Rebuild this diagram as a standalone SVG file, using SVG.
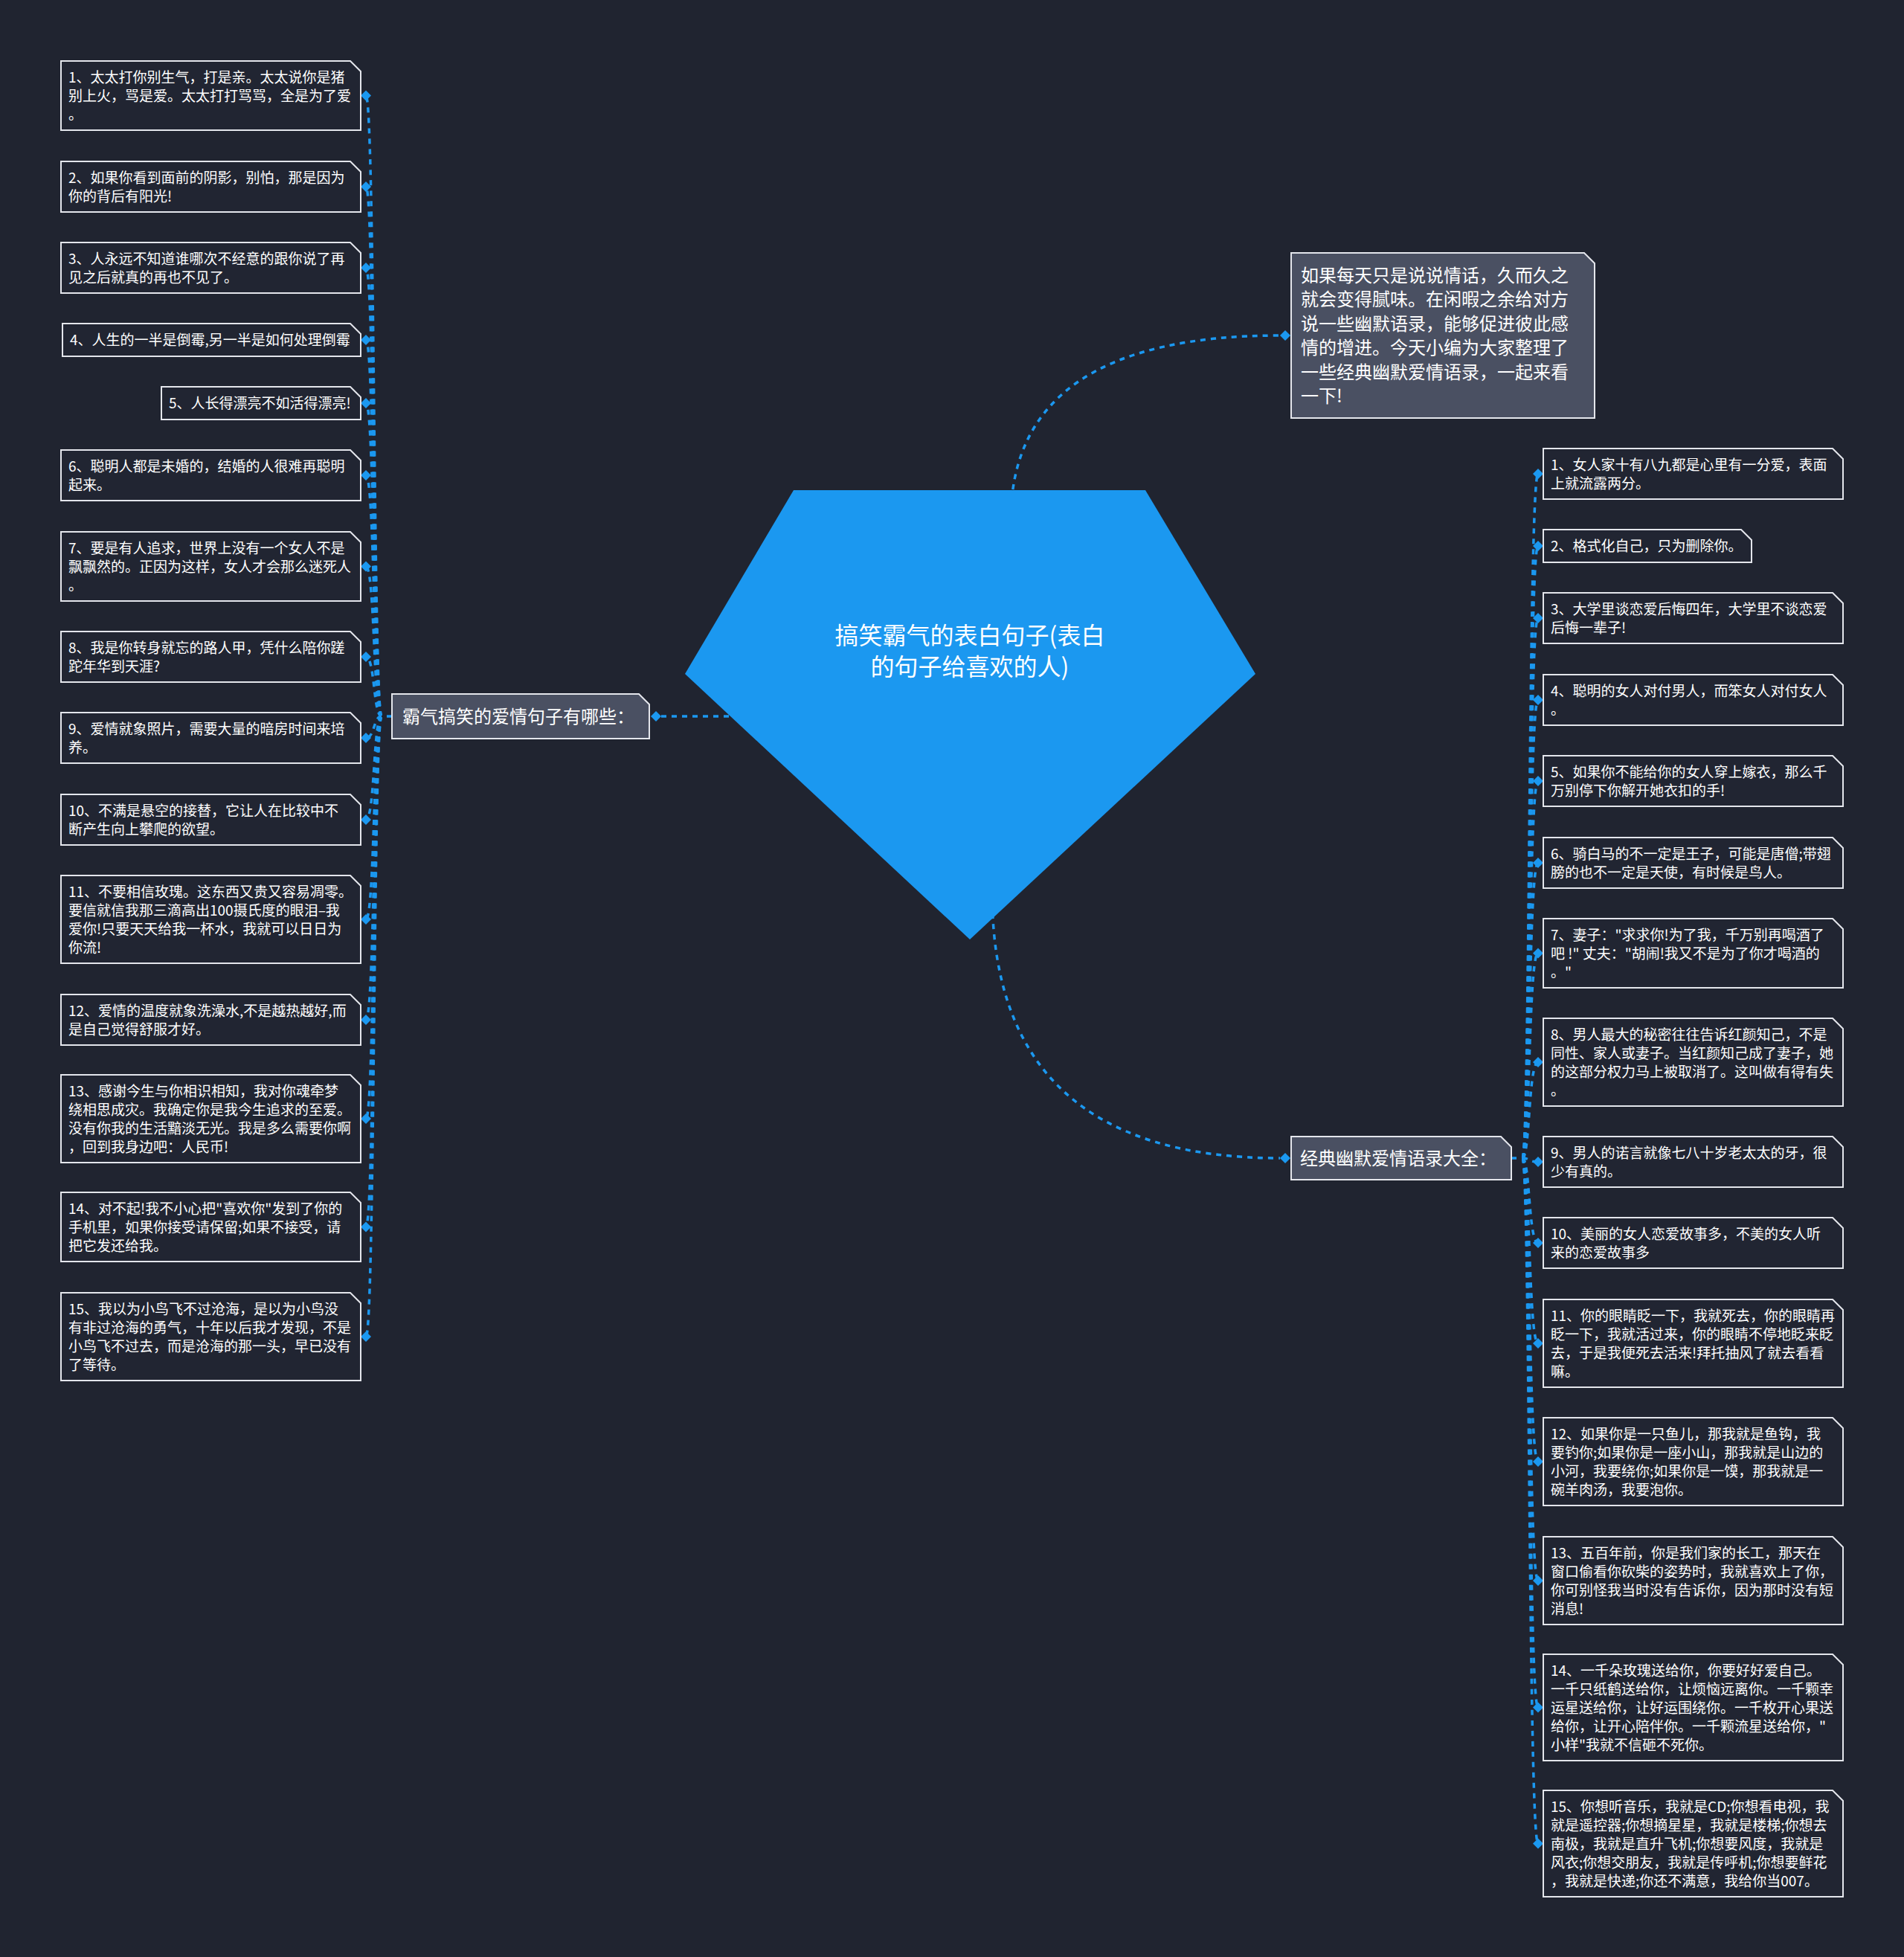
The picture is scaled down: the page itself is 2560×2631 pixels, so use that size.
<svg xmlns="http://www.w3.org/2000/svg" width="2560" height="2631" viewBox="0 0 2560 2631">
<style>
.leaf{fill:#212532;stroke:#e4e6ec;stroke-width:2}
.branch{fill:#4a5062;stroke:#e4e6ec;stroke-width:2}
.t{font-family:"Noto Sans CJK SC","Noto Sans",sans-serif;fill:#ffffff}
.t19{font-size:19px}
.t24{font-size:24px}
.t32{font-size:32px}
.con{fill:none;stroke:#1b98f0;stroke-width:3.5;stroke-dasharray:7 7}
.dia{fill:#1b98f0}
</style>
<defs>
<path id="dm" d="M0 -7 L7 0 L0 7 L-7 0 Z"/>
</defs>
<rect width="2560" height="2631" fill="#202430"/>

<g id="connectors">
<path class="con" d="M1359 700 Q1359 451 1721 451"/>
<path class="con" d="M1334 1200 Q1334 1557 1721 1557"/>
<path class="con" d="M889 963 L1000 963"/>
<path class="con" d="M527 963 L513 963"/>
<path class="con" d="M2032 1557 L2047 1557"/>
<path class="con" d="M513 963 C502 963 504 128.5 492 128.5"/>
<path class="con" d="M513 963 C502 963 504 251 492 251"/>
<path class="con" d="M513 963 C502 963 504 360 492 360"/>
<path class="con" d="M513 963 C502 963 504 457 492 457"/>
<path class="con" d="M513 963 C502 963 504 542 492 542"/>
<path class="con" d="M513 963 C502 963 504 639 492 639"/>
<path class="con" d="M513 963 C502 963 504 761.5 492 761.5"/>
<path class="con" d="M513 963 C502 963 504 883 492 883"/>
<path class="con" d="M513 963 C502 963 504 992 492 992"/>
<path class="con" d="M513 963 C502 963 504 1102 492 1102"/>
<path class="con" d="M513 963 C502 963 504 1236 492 1236"/>
<path class="con" d="M513 963 C502 963 504 1371 492 1371"/>
<path class="con" d="M513 963 C502 963 504 1504 492 1504"/>
<path class="con" d="M513 963 C502 963 504 1649.5 492 1649.5"/>
<path class="con" d="M513 963 C502 963 504 1797 492 1797"/>
<path class="con" d="M2047 1557 C2057 1557 2055 637 2068 637"/>
<path class="con" d="M2047 1557 C2057 1557 2055 734 2068 734"/>
<path class="con" d="M2047 1557 C2057 1557 2055 831 2068 831"/>
<path class="con" d="M2047 1557 C2057 1557 2055 941 2068 941"/>
<path class="con" d="M2047 1557 C2057 1557 2055 1050 2068 1050"/>
<path class="con" d="M2047 1557 C2057 1557 2055 1160 2068 1160"/>
<path class="con" d="M2047 1557 C2057 1557 2055 1281.5 2068 1281.5"/>
<path class="con" d="M2047 1557 C2057 1557 2055 1428 2068 1428"/>
<path class="con" d="M2047 1557 C2057 1557 2055 1562 2068 1562"/>
<path class="con" d="M2047 1557 C2057 1557 2055 1671 2068 1671"/>
<path class="con" d="M2047 1557 C2057 1557 2055 1806 2068 1806"/>
<path class="con" d="M2047 1557 C2057 1557 2055 1965 2068 1965"/>
<path class="con" d="M2047 1557 C2057 1557 2055 2125 2068 2125"/>
<path class="con" d="M2047 1557 C2057 1557 2055 2295.5 2068 2295.5"/>
<path class="con" d="M2047 1557 C2057 1557 2055 2478.5 2068 2478.5"/>
<use href="#dm" class="dia" x="1728" y="451"/>
<use href="#dm" class="dia" x="1728" y="1557"/>
<use href="#dm" class="dia" x="882" y="963"/>
<use href="#dm" class="dia" x="492" y="128.5"/>
<use href="#dm" class="dia" x="492" y="251"/>
<use href="#dm" class="dia" x="492" y="360"/>
<use href="#dm" class="dia" x="492" y="457"/>
<use href="#dm" class="dia" x="492" y="542"/>
<use href="#dm" class="dia" x="492" y="639"/>
<use href="#dm" class="dia" x="492" y="761.5"/>
<use href="#dm" class="dia" x="492" y="883"/>
<use href="#dm" class="dia" x="492" y="992"/>
<use href="#dm" class="dia" x="492" y="1102"/>
<use href="#dm" class="dia" x="492" y="1236"/>
<use href="#dm" class="dia" x="492" y="1371"/>
<use href="#dm" class="dia" x="492" y="1504"/>
<use href="#dm" class="dia" x="492" y="1649.5"/>
<use href="#dm" class="dia" x="492" y="1797"/>
<use href="#dm" class="dia" x="2068" y="637"/>
<use href="#dm" class="dia" x="2068" y="734"/>
<use href="#dm" class="dia" x="2068" y="831"/>
<use href="#dm" class="dia" x="2068" y="941"/>
<use href="#dm" class="dia" x="2068" y="1050"/>
<use href="#dm" class="dia" x="2068" y="1160"/>
<use href="#dm" class="dia" x="2068" y="1281.5"/>
<use href="#dm" class="dia" x="2068" y="1428"/>
<use href="#dm" class="dia" x="2068" y="1562"/>
<use href="#dm" class="dia" x="2068" y="1671"/>
<use href="#dm" class="dia" x="2068" y="1806"/>
<use href="#dm" class="dia" x="2068" y="1965"/>
<use href="#dm" class="dia" x="2068" y="2125"/>
<use href="#dm" class="dia" x="2068" y="2295.5"/>
<use href="#dm" class="dia" x="2068" y="2478.5"/>
</g>

<g id="center">
<polygon points="1067,659 1540,659 1688,906 1304,1263 921,906" fill="#1b98f0"/>
<text class="t t32" x="1304" y="866" text-anchor="middle">搞笑霸气的表白句子(表白</text>
<text class="t t32" x="1304" y="908" text-anchor="middle">的句子给喜欢的人)</text>
</g>

<g id="intro">
<path class="branch" d="M1736 340 H2130 L2144 354 V562 H1736 Z"/>
<text class="t t24" x="1749"><tspan x="1749" y="379">如果每天只是说说情话，久而久之</tspan><tspan x="1749" y="411">就会变得腻味。在闲暇之余给对方</tspan><tspan x="1749" y="444">说一些幽默语录，能够促进彼此感</tspan><tspan x="1749" y="476">情的增进。今天小编为大家整理了</tspan><tspan x="1749" y="509">一些经典幽默爱情语录，一起来看</tspan><tspan x="1749" y="541">一下!</tspan></text>
</g>

<g id="branch-left">
<path class="branch" d="M527 933 H859 L873 947 V993 H527 Z"/>
<text class="t t24" x="541" y="972">霸气搞笑的爱情句子有哪些：</text>
</g>

<g id="branch-right">
<path class="branch" d="M1736 1528 H2018 L2032 1542 V1586 H1736 Z"/>
<text class="t t24" x="1748" y="1566">经典幽默爱情语录大全：</text>
</g>

<g id="l1"><path class="leaf" d="M82 82 H471 L485 96 V175 H82 Z"/><text class="t t19"><tspan x="92" y="111">1、太太打你别生气，打是亲。太太说你是猪</tspan><tspan x="92" y="136">别上火，骂是爱。太太打打骂骂，全是为了爱</tspan><tspan x="92" y="161">。</tspan></text></g>
<g id="l2"><path class="leaf" d="M82 217 H471 L485 231 V285 H82 Z"/><text class="t t19"><tspan x="92" y="246">2、如果你看到面前的阴影，别怕，那是因为</tspan><tspan x="92" y="271">你的背后有阳光!</tspan></text></g>
<g id="l3"><path class="leaf" d="M82 326 H471 L485 340 V394 H82 Z"/><text class="t t19"><tspan x="92" y="355">3、人永远不知道谁哪次不经意的跟你说了再</tspan><tspan x="92" y="380">见之后就真的再也不见了。</tspan></text></g>
<g id="l4"><path class="leaf" d="M84 435 H471 L485 449 V479 H84 Z"/><text class="t t19"><tspan x="94" y="464">4、人生的一半是倒霉,另一半是如何处理倒霉</tspan></text></g>
<g id="l5"><path class="leaf" d="M217 520 H471 L485 534 V564 H217 Z"/><text class="t t19"><tspan x="227" y="549">5、人长得漂亮不如活得漂亮!</tspan></text></g>
<g id="l6"><path class="leaf" d="M82 605 H471 L485 619 V673 H82 Z"/><text class="t t19"><tspan x="92" y="634">6、聪明人都是未婚的，结婚的人很难再聪明</tspan><tspan x="92" y="659">起来。</tspan></text></g>
<g id="l7"><path class="leaf" d="M82 715 H471 L485 729 V808 H82 Z"/><text class="t t19"><tspan x="92" y="744">7、要是有人追求，世界上没有一个女人不是</tspan><tspan x="92" y="769">飘飘然的。正因为这样，女人才会那么迷死人</tspan><tspan x="92" y="794">。</tspan></text></g>
<g id="l8"><path class="leaf" d="M82 849 H471 L485 863 V917 H82 Z"/><text class="t t19"><tspan x="92" y="878">8、我是你转身就忘的路人甲，凭什么陪你蹉</tspan><tspan x="92" y="903">跎年华到天涯?</tspan></text></g>
<g id="l9"><path class="leaf" d="M82 958 H471 L485 972 V1026 H82 Z"/><text class="t t19"><tspan x="92" y="987">9、爱情就象照片，需要大量的暗房时间来培</tspan><tspan x="92" y="1012">养。</tspan></text></g>
<g id="l10"><path class="leaf" d="M82 1068 H471 L485 1082 V1136 H82 Z"/><text class="t t19"><tspan x="92" y="1097">10、不满是悬空的接替，它让人在比较中不</tspan><tspan x="92" y="1122">断产生向上攀爬的欲望。</tspan></text></g>
<g id="l11"><path class="leaf" d="M82 1177 H471 L485 1191 V1295 H82 Z"/><text class="t t19"><tspan x="92" y="1206">11、不要相信玫瑰。这东西又贵又容易凋零。</tspan><tspan x="92" y="1231">要信就信我那三滴高出100摄氏度的眼泪–我</tspan><tspan x="92" y="1256">爱你!只要天天给我一杯水，我就可以日日为</tspan><tspan x="92" y="1281">你流!</tspan></text></g>
<g id="l12"><path class="leaf" d="M82 1337 H471 L485 1351 V1405 H82 Z"/><text class="t t19"><tspan x="92" y="1366">12、爱情的温度就象洗澡水,不是越热越好,而</tspan><tspan x="92" y="1391">是自己觉得舒服才好。</tspan></text></g>
<g id="l13"><path class="leaf" d="M82 1445 H471 L485 1459 V1563 H82 Z"/><text class="t t19"><tspan x="92" y="1474">13、感谢今生与你相识相知，我对你魂牵梦</tspan><tspan x="92" y="1499">绕相思成灾。我确定你是我今生追求的至爱。</tspan><tspan x="92" y="1524">没有你我的生活黯淡无光。我是多么需要你啊</tspan><tspan x="92" y="1549">，回到我身边吧：人民币!</tspan></text></g>
<g id="l14"><path class="leaf" d="M82 1603 H471 L485 1617 V1696 H82 Z"/><text class="t t19"><tspan x="92" y="1632">14、对不起!我不小心把"喜欢你"发到了你的</tspan><tspan x="92" y="1657">手机里，如果你接受请保留;如果不接受，请</tspan><tspan x="92" y="1682">把它发还给我。</tspan></text></g>
<g id="l15"><path class="leaf" d="M82 1738 H471 L485 1752 V1856 H82 Z"/><text class="t t19"><tspan x="92" y="1767">15、我以为小鸟飞不过沧海，是以为小鸟没</tspan><tspan x="92" y="1792">有非过沧海的勇气，十年以后我才发现，不是</tspan><tspan x="92" y="1817">小鸟飞不过去，而是沧海的那一头，早已没有</tspan><tspan x="92" y="1842">了等待。</tspan></text></g>

<g id="r1"><path class="leaf" d="M2075 603 H2464 L2478 617 V671 H2075 Z"/><text class="t t19"><tspan x="2085" y="632">1、女人家十有八九都是心里有一分爱，表面</tspan><tspan x="2085" y="657">上就流露两分。</tspan></text></g>
<g id="r2"><path class="leaf" d="M2075 712 H2341 L2355 726 V756 H2075 Z"/><text class="t t19"><tspan x="2085" y="741">2、格式化自己，只为删除你。</tspan></text></g>
<g id="r3"><path class="leaf" d="M2075 797 H2464 L2478 811 V865 H2075 Z"/><text class="t t19"><tspan x="2085" y="826">3、大学里谈恋爱后悔四年，大学里不谈恋爱</tspan><tspan x="2085" y="851">后悔一辈子!</tspan></text></g>
<g id="r4"><path class="leaf" d="M2075 907 H2464 L2478 921 V975 H2075 Z"/><text class="t t19"><tspan x="2085" y="936">4、聪明的女人对付男人，而笨女人对付女人</tspan><tspan x="2085" y="961">。</tspan></text></g>
<g id="r5"><path class="leaf" d="M2075 1016 H2464 L2478 1030 V1084 H2075 Z"/><text class="t t19"><tspan x="2085" y="1045">5、如果你不能给你的女人穿上嫁衣，那么千</tspan><tspan x="2085" y="1070">万别停下你解开她衣扣的手!</tspan></text></g>
<g id="r6"><path class="leaf" d="M2075 1126 H2464 L2478 1140 V1194 H2075 Z"/><text class="t t19"><tspan x="2085" y="1155">6、骑白马的不一定是王子，可能是唐僧;带翅</tspan><tspan x="2085" y="1180">膀的也不一定是天使，有时候是鸟人。</tspan></text></g>
<g id="r7"><path class="leaf" d="M2075 1235 H2464 L2478 1249 V1328 H2075 Z"/><text class="t t19"><tspan x="2085" y="1264">7、妻子："求求你!为了我，千万别再喝酒了</tspan><tspan x="2085" y="1289">吧 !" 丈夫："胡闹!我又不是为了你才喝酒的</tspan><tspan x="2085" y="1314">。"</tspan></text></g>
<g id="r8"><path class="leaf" d="M2075 1369 H2464 L2478 1383 V1487 H2075 Z"/><text class="t t19"><tspan x="2085" y="1398">8、男人最大的秘密往往告诉红颜知己，不是</tspan><tspan x="2085" y="1423">同性、家人或妻子。当红颜知己成了妻子，她</tspan><tspan x="2085" y="1448">的这部分权力马上被取消了。这叫做有得有失</tspan><tspan x="2085" y="1473">。</tspan></text></g>
<g id="r9"><path class="leaf" d="M2075 1528 H2464 L2478 1542 V1596 H2075 Z"/><text class="t t19"><tspan x="2085" y="1557">9、男人的诺言就像七八十岁老太太的牙，很</tspan><tspan x="2085" y="1582">少有真的。</tspan></text></g>
<g id="r10"><path class="leaf" d="M2075 1637 H2464 L2478 1651 V1705 H2075 Z"/><text class="t t19"><tspan x="2085" y="1666">10、美丽的女人恋爱故事多，不美的女人听</tspan><tspan x="2085" y="1691">来的恋爱故事多</tspan></text></g>
<g id="r11"><path class="leaf" d="M2075 1747 H2464 L2478 1761 V1865 H2075 Z"/><text class="t t19"><tspan x="2085" y="1776">11、你的眼睛眨一下，我就死去，你的眼睛再</tspan><tspan x="2085" y="1801">眨一下，我就活过来，你的眼睛不停地眨来眨</tspan><tspan x="2085" y="1826">去，于是我便死去活来!拜托抽风了就去看看</tspan><tspan x="2085" y="1851">嘛。</tspan></text></g>
<g id="r12"><path class="leaf" d="M2075 1906 H2464 L2478 1920 V2024 H2075 Z"/><text class="t t19"><tspan x="2085" y="1935">12、如果你是一只鱼儿，那我就是鱼钩，我</tspan><tspan x="2085" y="1960">要钓你;如果你是一座小山，那我就是山边的</tspan><tspan x="2085" y="1985">小河，我要绕你;如果你是一馍，那我就是一</tspan><tspan x="2085" y="2010">碗羊肉汤，我要泡你。</tspan></text></g>
<g id="r13"><path class="leaf" d="M2075 2066 H2464 L2478 2080 V2184 H2075 Z"/><text class="t t19"><tspan x="2085" y="2095">13、五百年前，你是我们家的长工，那天在</tspan><tspan x="2085" y="2120">窗口偷看你砍柴的姿势时，我就喜欢上了你，</tspan><tspan x="2085" y="2145">你可别怪我当时没有告诉你，因为那时没有短</tspan><tspan x="2085" y="2170">消息!</tspan></text></g>
<g id="r14"><path class="leaf" d="M2075 2224 H2464 L2478 2238 V2367 H2075 Z"/><text class="t t19"><tspan x="2085" y="2253">14、一千朵玫瑰送给你，你要好好爱自己。</tspan><tspan x="2085" y="2278">一千只纸鹤送给你，让烦恼远离你。一千颗幸</tspan><tspan x="2085" y="2303">运星送给你，让好运围绕你。一千枚开心果送</tspan><tspan x="2085" y="2328">给你，让开心陪伴你。一千颗流星送给你，"</tspan><tspan x="2085" y="2353">小样"我就不信砸不死你。</tspan></text></g>
<g id="r15"><path class="leaf" d="M2075 2407 H2464 L2478 2421 V2550 H2075 Z"/><text class="t t19"><tspan x="2085" y="2436">15、你想听音乐，我就是CD;你想看电视，我</tspan><tspan x="2085" y="2461">就是遥控器;你想摘星星，我就是楼梯;你想去</tspan><tspan x="2085" y="2486">南极，我就是直升飞机;你想要风度，我就是</tspan><tspan x="2085" y="2511">风衣;你想交朋友，我就是传呼机;你想要鲜花</tspan><tspan x="2085" y="2536">，我就是快递;你还不满意，我给你当007。</tspan></text></g>
</svg>
